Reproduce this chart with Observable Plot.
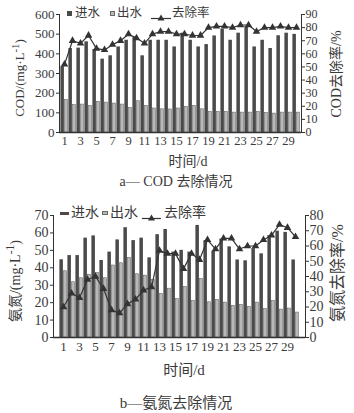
<!DOCTYPE html>
<html><head><meta charset="utf-8">
<script src="https://cdn.jsdelivr.net/npm/d3@7"></script>
<script src="https://cdn.jsdelivr.net/npm/@observablehq/plot@0.6"></script>
<style>
html,body{margin:0;padding:0;background:#fff;}
#root{position:relative;width:354px;height:413px;overflow:hidden;background:#fff;color:#3a3a3a;font-family:"Liberation Serif","Noto Sans CJK SC",serif;}
.a{position:absolute;white-space:nowrap;line-height:1;}
.c{transform:translate(-50%,-50%);}
.v{transform:translate(0,-50%);}
.r{writing-mode:vertical-rl;text-orientation:sideways;transform:translate(-50%,-50%) rotate(180deg);}
.plot{position:absolute;left:0;overflow:visible;}
</style></head><body><div id="root"></div>
<script>
// ---------- data ----------
const days = [1,2,3,4,5,6,7,8,9,10,11,12,13,14,15,16,17,18,19,20,21,22,23,24,25,26,27,28,29,30];
const dayTicks = [1,3,5,7,9,11,13,15,17,19,21,23,25,27,29];
// a — COD
const codIn   = [335,427,429,461,422,373,390,435,469,485,390,469,469,469,435,505,469,435,447,491,525,469,505,538,435,469,427,492,505,499];
const codOut  = [165,139,142,134,156,152,147,142,125,159,135,122,118,117,122,130,135,118,105,105,105,101,101,101,105,100,96,101,101,101];
const codRate = [52,70,68,74,64,63,67,70,75,72,68,75,77,77,75,75,74,74,80,81,81,80,82,82,77,80,80,81,80,80];
const codTicks = [0,100,200,300,400,500,600];
const codRateTicks = [0,10,20,30,40,50,60,70,80,90];
// b — 氨氮
const nhIn   = [44.6,47,47,57,58.3,44.2,49,56,63,55.6,57,45.7,59,62,49,50,49,64.3,55.5,49.5,56.5,52,44.5,44,51,48,58.5,61,60.3,44.5];
const nhOut  = [38,31.7,34,36,37,34,41.3,42.6,45.7,36.3,35.5,33,25,28,22,29,21,33.6,20.2,21.5,20,18.2,18.7,17.6,20,16.3,21,16,16.6,14.3];
const nhRate = [20,29,26,38,40,32,18,16,22,25,31,33,57,55,55,45,55,51,64,58,65,65,58,60,60,64,67,74,72,66];
const nhTicks = [0,10,20,30,40,50,60,70];
const nhRateTicks = [0,10,20,30,40,50,60,70,80];

const seriesNames = ["进水","出水","去除率"];
const labelsA = {yl:"COD/(mg·L<sup>-1</sup>)", yr:"COD去除率/%", x:"时间/d", cap:"a— COD 去除情况"};
const labelsB = {yl:"氨氮/(mg·L<sup>-1</sup>)", yr:"氨氮去除率/%", x:"时间/d", cap:"b—氨氮去除情况"};

// ---------- styles ----------
const FONT = '"Liberation Serif","Noto Sans CJK SC",serif';
const DARK = "#4a4a4a", LIGHT = "#b8b8b8", LINE = "#333";
const root = document.getElementById("root");
function txt(html, x, y, size, cls){
  const d = document.createElement("div");
  d.className = "a " + cls;
  d.style.left = x + "px"; d.style.top = y + "px"; d.style.fontSize = size + "px";
  d.innerHTML = html; root.appendChild(d); return d;
}
function box(x, y, w, h, bg, border){
  const d = document.createElement("div");
  d.className = "a";
  Object.assign(d.style, {left:x+"px", top:y+"px", width:w+"px", height:h+"px", background:bg, boxSizing:"border-box"});
  if (border) d.style.border = border;
  root.appendChild(d); return d;
}
function lineMarker(x, y, w){
  const d = document.createElement("div");
  d.className = "a";
  d.style.left = x + "px"; d.style.top = (y - 4) + "px";
  d.innerHTML = `<svg width="${w}" height="8"><line x1="0" y1="4.5" x2="${w}" y2="4.5" stroke="${LINE}" stroke-width="1.2"/><path d="M${w/2},0.5L${w/2+3.5},6.5L${w/2-3.5},6.5Z" fill="${LINE}"/></svg>`;
  root.appendChild(d);
}

function panel({top, height, mt, mb, ml, mr, inV, outV, rate, yTicks, yMax, rTicks, rMax, fs, xfs, rfs}){
  const k = yMax / rMax;
  const rows = days.map((d, i) => ({day: d, inV: inV[i], outV: outV[i], rate: rate[i] * k}));
  const p = Plot.plot({
    width: 354, height, marginTop: mt, marginBottom: mb, marginLeft: ml, marginRight: mr,
    style: {fontFamily: FONT, fontSize: fs + "px", color: "#3a3a3a", background: "transparent", overflow: "visible"},
    x: {type: "band", domain: days, padding: 0, axis: null, label: null},
    y: {domain: [0, yMax], axis: null, label: null},
    marks: [
      Plot.barY(rows, {x: "day", y: "inV", fill: DARK, insetLeft: 0.4, insetRight: 4.1}),
      Plot.barY(rows, {x: "day", y: "outV", fill: LIGHT, stroke: "#6a6a6a", strokeWidth: 0.6, insetLeft: 4.4, insetRight: 0.6}),
      Plot.line(rows, {x: "day", y: "rate", stroke: LINE, strokeWidth: 1.2}),
      Plot.dot(rows, {x: "day", y: "rate", symbol: "triangle", r: 2.8, fill: LINE, stroke: null}),
      Plot.frame({anchor: "left", stroke: "#333"}),
      Plot.frame({anchor: "right", stroke: "#333"}),
      Plot.ruleY([0], {stroke: "#333", strokeWidth: 1.4}),
      Plot.axisX(dayTicks, {anchor: "bottom", label: null, tickSize: 0, tickPadding: 4, fontSize: xfs, fontFamily: FONT}),
      Plot.axisY(yTicks, {anchor: "left", label: null, tickSize: 3, tickPadding: 2, fontSize: fs, fontFamily: FONT, stroke: "#333"}),
      Plot.axisY(rTicks, {anchor: "right", label: null, y: d => d * k, text: d => String(d), tickSize: 3, tickPadding: 1, fontSize: rfs, fontFamily: FONT, stroke: "#333"})
    ]
  });
  p.classList.add("plot");
  p.style.top = top + "px";
  root.appendChild(p);
}

// ---------- panel a ----------
panel({top: 0, height: 150, mt: 14, mb: 18, ml: 59, mr: 53, inV: codIn, outV: codOut, rate: codRate,
       yTicks: codTicks, yMax: 600, rTicks: codRateTicks, rMax: 90, fs: 13, xfs: 12.5, rfs: 12});
box(67, 10.5, 5, 5, DARK);
txt(seriesNames[0], 75, 13, 12.5, "v");
box(110, 10.5, 5, 5, LIGHT, "0.6px solid #6a6a6a");
txt(seriesNames[1], 117, 13, 12.5, "v");
lineMarker(151, 13, 20);
txt(seriesNames[2], 172, 13, 12.5, "v");
txt(labelsA.yl, 18, 78, 13, "r");
txt(labelsA.yr, 337, 74, 14, "r");
txt(labelsA.x, 188, 162, 14, "c");
txt(labelsA.cap, 176, 182, 14, "c");

// ---------- panel b ----------
panel({top: 200, height: 160, mt: 15, mb: 23, ml: 53, mr: 49, inV: nhIn, outV: nhOut, rate: nhRate,
       yTicks: nhTicks, yMax: 70, rTicks: nhRateTicks, rMax: 80, fs: 14, xfs: 13, rfs: 14});
box(60, 211.5, 9, 3, DARK);
txt(seriesNames[0], 71, 213, 14, "v");
box(102, 211, 6, 4, LIGHT, "0.6px solid #6a6a6a");
txt(seriesNames[1], 110, 213, 14, "v");
lineMarker(142, 213, 19);
txt(seriesNames[2], 164, 213, 14, "v");
txt(labelsB.yl, 14, 281, 14, "r");
txt(labelsB.yr, 338, 273, 16, "r");
txt(labelsB.x, 184, 370, 15, "c");
txt(labelsB.cap, 176, 403, 15, "c");
</script></body></html>
